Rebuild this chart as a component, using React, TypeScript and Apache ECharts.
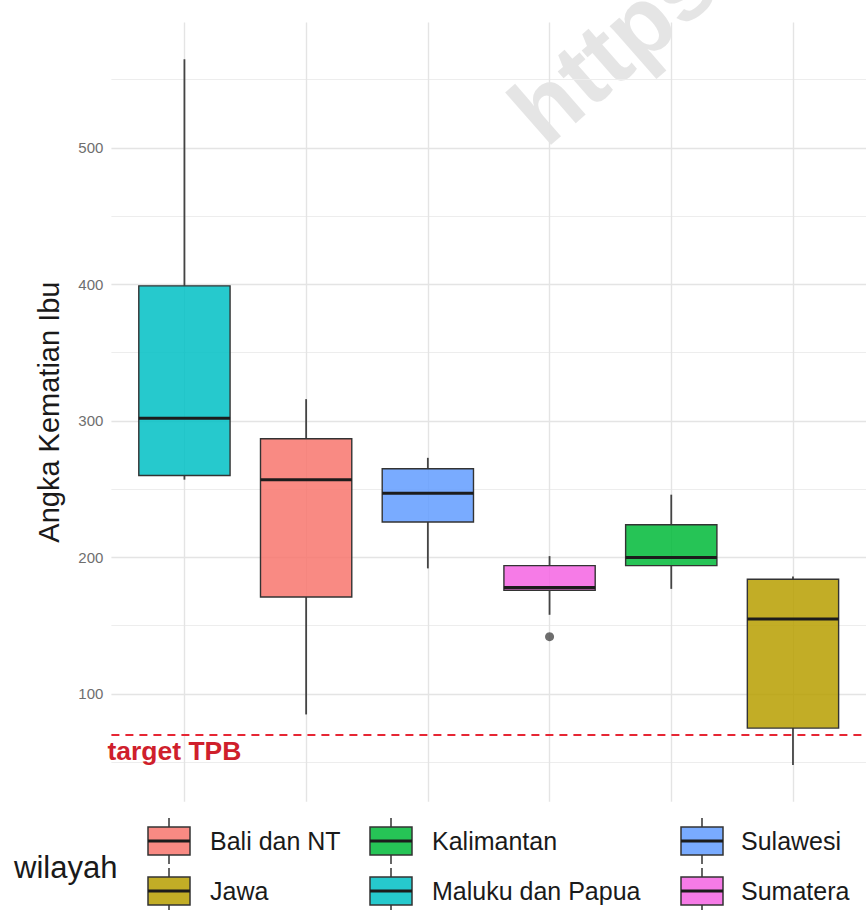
import React, { useEffect, useRef } from "react";
import * as echarts from "echarts";

// Maternal mortality (Angka Kematian Ibu) by region, ordered by median
const regions = ["Maluku dan Papua", "Bali dan NT", "Sulawesi", "Sumatera", "Kalimantan", "Jawa"];
const lowerWhisker = [257, 85, 192, 158, 177, 48];
const quartile1 = [260, 171, 226, 176, 194, 75];
const median = [302, 257, 247, 178, 200, 155];
const quartile3 = [399, 287, 265, 194, 224, 184];
const upperWhisker = [565, 316, 273, 201, 246, 186];

const outlierRegions = ["Sumatera"];
const outlierValues = [142];

// Legend (fill scale) in alphabetical order with ggplot hue colours
const legendOrder = ["Bali dan NT", "Jawa", "Kalimantan", "Maluku dan Papua", "Sulawesi", "Sumatera"];
const legendColors = ["#F8766D", "#B79F00", "#00BA38", "#00BFC4", "#619CFF", "#F564E3"];

const yTicks = [100, 200, 300, 400, 500];
const yMinorTicks = [50, 150, 250, 350, 450, 550];
const targetTPB = 70;

const FONT = "'Liberation Sans', Arimo, Arial, sans-serif";

function colorOf(region: string) {
  return legendColors[legendOrder.indexOf(region)];
}

function buildLegend() {
  const keyX = [148, 370, 681];
  const textX = [210, 432, 741];
  const rowY = [841, 891];
  const keyW = 42;
  const keyH = 28;
  const children: any[] = [
    {
      type: "text",
      x: 14,
      y: 867,
      style: { text: "wilayah", font: `31px ${FONT}`, fill: "#1a1a1a", verticalAlign: "middle", align: "left" },
    },
  ];
  legendOrder.forEach((name, i) => {
    const col = Math.floor(i / 2);
    const row = i % 2;
    const kx = keyX[col];
    const cy = rowY[row];
    const cx = kx + keyW / 2;
    children.push(
      { type: "line", shape: { x1: cx, y1: cy - 23, x2: cx, y2: cy - keyH / 2 }, style: { stroke: "#333", lineWidth: 1.5 } },
      { type: "line", shape: { x1: cx, y1: cy + keyH / 2, x2: cx, y2: cy + 23 }, style: { stroke: "#333", lineWidth: 1.5 } },
      {
        type: "rect",
        shape: { x: kx, y: cy - keyH / 2, width: keyW, height: keyH },
        style: { fill: echarts.color.modifyAlpha(legendColors[i], 0.85), stroke: "#333", lineWidth: 1.5 },
      },
      { type: "line", shape: { x1: kx, y1: cy, x2: kx + keyW, y2: cy }, style: { stroke: "#1c1c1c", lineWidth: 3 } },
      {
        type: "text",
        x: textX[col],
        y: cy,
        style: { text: name, font: `25px ${FONT}`, fill: "#1a1a1a", verticalAlign: "middle", align: "left" },
      }
    );
  });
  return children;
}

export default function App() {
  const ref = useRef<HTMLDivElement>(null);

  useEffect(() => {
    document.body.style.margin = "0";
    if (!ref.current) return;
    const chart = echarts.init(ref.current, undefined, { renderer: "svg" });

    const boxData = regions.map((r, i) => [
      i + 1,
      lowerWhisker[i],
      quartile1[i],
      median[i],
      quartile3[i],
      upperWhisker[i],
    ]);
    const outliers = outlierRegions.map((r, i) => [regions.indexOf(r) + 1, outlierValues[i]]);

    const gridLines: any[] = [
      ...yMinorTicks.map((v) => ({ yAxis: v, lineStyle: { color: "#ededed", width: 1.2, type: "solid" } })),
      ...yTicks.map((v) => ({ yAxis: v, lineStyle: { color: "#e4e4e4", width: 1.4, type: "solid" } })),
      ...regions.map((r, i) => ({ xAxis: i + 1, lineStyle: { color: "#e4e4e4", width: 1.4, type: "solid" } })),
    ];

    const option: any = {
      animation: false,
      backgroundColor: "#ffffff",
      grid: { left: 111.4, top: 22.4, width: 760.2, height: 779.4 },
      xAxis: {
        type: "value",
        min: 0.4,
        max: 6.6,
        axisLine: { show: false },
        axisTick: { show: false },
        axisLabel: { show: false },
        splitLine: { show: false },
      },
      yAxis: {
        type: "value",
        min: 21,
        max: 592,
        name: "Angka Kematian Ibu",
        nameLocation: "middle",
        nameGap: 48,
        nameTextStyle: { fontSize: 29, color: "#1a1a1a", fontFamily: FONT },
        axisLine: { show: false },
        axisTick: { show: false },
        splitLine: { show: false },
        axisLabel: { customValues: yTicks, fontSize: 15, color: "#6e6e6e", margin: 8, fontFamily: FONT },
      },
      series: [
        {
          type: "line",
          data: [],
          z: 1,
          silent: true,
          markLine: { symbol: "none", silent: true, z: 1, label: { show: false }, data: gridLines },
        },
        {
          type: "custom",
          z: 3,
          data: boxData,
          encode: { x: 0, y: [1, 2, 3, 4, 5] },
          renderItem: (params: any, api: any) => {
            const x = api.value(0);
            const lo = api.coord([x, api.value(1)]);
            const b1 = api.coord([x, api.value(2)]);
            const md = api.coord([x, api.value(3)]);
            const b3 = api.coord([x, api.value(4)]);
            const hi = api.coord([x, api.value(5)]);
            const w = api.size([0.75, 0])[0];
            const left = lo[0] - w / 2;
            const color = colorOf(regions[params.dataIndex]);
            const whisker = { stroke: "#444444", lineWidth: 1.8 };
            return {
              type: "group",
              children: [
                { type: "line", shape: { x1: lo[0], y1: b3[1], x2: lo[0], y2: hi[1] }, style: whisker },
                { type: "line", shape: { x1: lo[0], y1: b1[1], x2: lo[0], y2: lo[1] }, style: whisker },
                {
                  type: "rect",
                  shape: { x: left, y: b3[1], width: w, height: b1[1] - b3[1] },
                  style: { fill: echarts.color.modifyAlpha(color, 0.85), stroke: "#333333", lineWidth: 1.4 },
                },
                {
                  type: "line",
                  shape: { x1: left, y1: md[1], x2: left + w, y2: md[1] },
                  style: { stroke: "#1c1c1c", lineWidth: 3 },
                },
              ],
            };
          },
        },
        {
          type: "scatter",
          z: 4,
          data: outliers,
          symbol: "circle",
          symbolSize: 9,
          itemStyle: { color: "#4a4a4a" },
        },
        {
          type: "line",
          data: [],
          z: 5,
          markLine: {
            symbol: "none",
            silent: true,
            z: 6,
            lineStyle: { color: "#e62634", width: 2, type: [8, 6] },
            label: {
              show: true,
              position: "insideStartBottom",
              formatter: "target TPB",
              color: "#cf1f2c",
              fontSize: 26.5,
              fontWeight: "bold",
              fontFamily: FONT,
              distance: [-4, 3],
            },
            data: [{ yAxis: targetTPB }],
          },
        },
      ],
      graphic: [
        {
          type: "text",
          x: 524,
          y: 124,
          rotation: 0.72,
          silent: true,
          z: 0,
          style: {
            text: "https",
            font: `bold 96px ${FONT}`,
            fill: "#dcdcdc",
            opacity: 0.75,
            align: "left",
            verticalAlign: "middle",
          },
        },
        ...buildLegend(),
      ],
    };

    chart.setOption(option);
    return () => chart.dispose();
  }, []);

  return <div ref={ref} style={{ width: 866, height: 910 }} />;
}
